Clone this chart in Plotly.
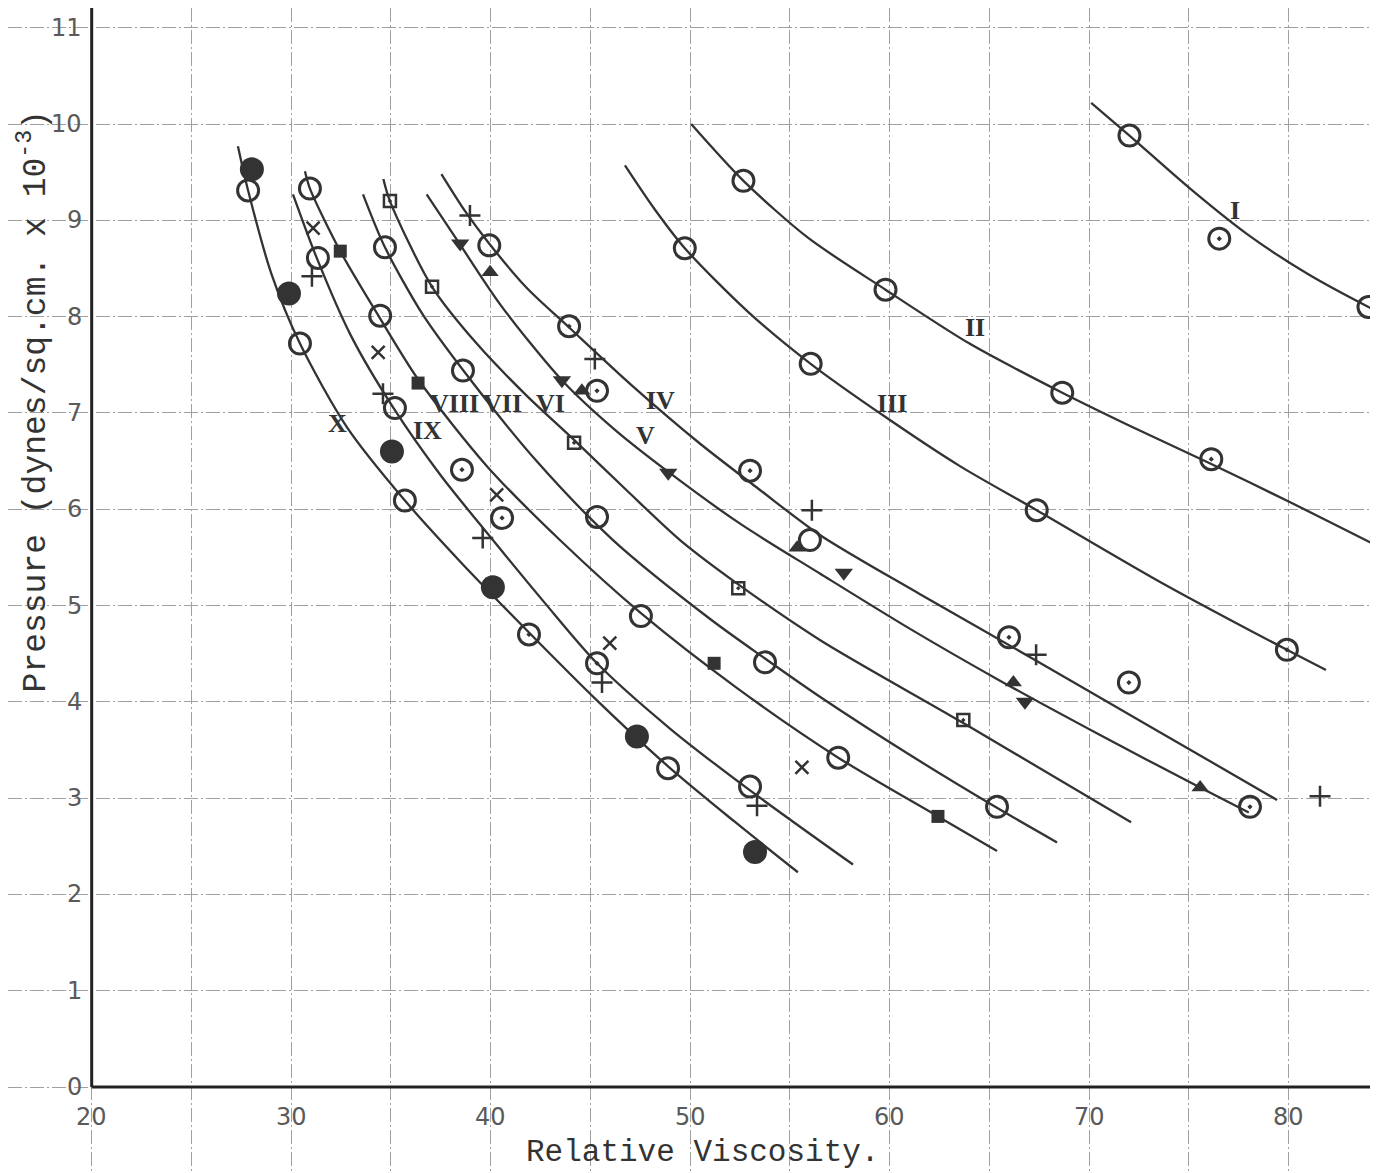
import plotly.graph_objects as go

# ---------------- data ----------------
x_ticks = [20, 30, 40, 50, 60, 70, 80]
y_ticks = [0, 1, 2, 3, 4, 5, 6, 7, 8, 9, 10, 11]

# smooth curves
c1_x = [27.33, 27.84, 29.0, 30.44, 32.8, 35.7, 38.5, 41.92, 45.3, 48.89, 52.2, 55.4]
c1_y = [9.77, 9.31, 8.45, 7.72, 6.85, 6.09, 5.45, 4.72, 4.02, 3.33, 2.76, 2.23]
c2_x = [30.09, 31.28, 33.0, 35.1, 37.5, 40.11, 42.7, 45.33, 49.0, 53.0, 58.16]
c2_y = [9.27, 8.61, 7.8, 7.06, 6.35, 5.68, 5.03, 4.40, 3.72, 3.08, 2.31]
c3_x = [30.69, 30.94, 32.46, 34.46, 36.36, 39.8, 43.47, 47.53, 52.3, 57.42, 62.42, 65.38]
c3_y = [9.51, 9.33, 8.68, 7.98, 7.35, 6.45, 5.68, 4.92, 4.15, 3.42, 2.81, 2.45]
c4_x = [33.6, 34.7, 36.6, 38.63, 42.3, 46.13, 51.0, 53.75, 56.52, 61.0, 65.29, 68.39]
c4_y = [9.27, 8.72, 8.02, 7.44, 6.5, 5.68, 4.86, 4.45, 4.05, 3.45, 2.91, 2.54]
c5_x = [34.62, 34.95, 37.06, 39.3, 41.8, 44.18, 46.8, 49.49, 52.41, 56.52, 63.69, 72.1]
c5_y = [9.43, 9.2, 8.31, 7.72, 7.18, 6.72, 6.2, 5.68, 5.22, 4.64, 3.78, 2.75]
c6_x = [36.79, 38.46, 40.5, 43.57, 46.2, 48.89, 52.5, 56.52, 61.0, 65.44, 70.5, 75.56, 78.0]
c6_y = [9.27, 8.75, 8.12, 7.34, 6.83, 6.39, 5.85, 5.33, 4.76, 4.23, 3.66, 3.11, 2.85]
c7_x = [37.53, 38.7, 39.92, 41.8, 43.92, 47.0, 50.5, 53.5, 56.52, 61.5, 67.24, 73.0, 79.42]
c7_y = [9.48, 9.1, 8.76, 8.3, 7.89, 7.3, 6.68, 6.2, 5.73, 5.12, 4.44, 3.75, 2.98]
c8_x = [46.73, 48.2, 49.73, 52.9, 56.04, 59.7, 63.5, 67.37, 73.6, 79.91, 81.87]
c8_y = [9.57, 9.12, 8.71, 8.05, 7.51, 6.97, 6.45, 5.99, 5.24, 4.54, 4.33]
c9_x = [50.05, 52.67, 55.9, 59.79, 64.0, 68.65, 72.4, 76.12, 80.1, 84.05, 84.6]
c9_y = [10.0, 9.41, 8.82, 8.28, 7.72, 7.21, 6.83, 6.47, 6.07, 5.66, 5.60]
c10_x = [70.1, 72.02, 75.0, 77.9, 80.9, 84.0, 84.6]
c10_y = [10.22, 9.88, 9.34, 8.86, 8.45, 8.10, 8.04]

# markers
filled_circle_x = [28.03, 29.89, 35.05, 40.11, 47.33, 53.25]
filled_circle_y = [9.53, 8.24, 6.60, 5.19, 3.64, 2.44]
ring_x = [27.84, 30.94, 30.44, 31.34, 34.7, 34.46, 35.2, 35.70, 39.93, 38.61, 45.33, 48.89,
          53.0, 47.53, 53.75, 57.42, 65.38, 56.0, 67.37, 52.67, 59.79, 68.65, 49.73, 56.04,
          72.02, 84.0]
ring_y = [9.31, 9.33, 7.72, 8.61, 8.72, 8.01, 7.05, 6.09, 8.74, 7.44, 5.92, 3.31,
          3.12, 4.89, 4.41, 3.42, 2.91, 5.68, 5.99, 9.41, 8.28, 7.21, 8.71, 7.51,
          9.88, 8.10]
ringdot_x = [45.33, 41.92, 38.56, 40.57, 43.93, 45.33, 53.0, 65.98, 71.99, 78.06, 76.12, 79.91, 76.52]
ringdot_y = [4.40, 4.70, 6.41, 5.91, 7.90, 7.23, 6.40, 4.67, 4.20, 2.91, 6.52, 4.54, 8.81]
plus_x = [31.04, 34.6, 38.96, 45.22, 39.6, 45.58, 53.35, 56.1, 67.34, 81.57]
plus_y = [8.42, 7.2, 9.05, 7.56, 5.7, 4.20, 2.92, 5.99, 4.49, 3.02]
cross_x = [31.1, 34.36, 40.3, 45.97, 55.6]
cross_y = [8.92, 7.63, 6.15, 4.61, 3.32]
fsquare_x = [32.46, 36.36, 51.2, 62.42]
fsquare_y = [8.68, 7.31, 4.40, 2.81]
osquare_x = [34.95, 37.06, 44.18, 52.41, 63.69]
osquare_y = [9.2, 8.31, 6.69, 5.18, 3.81]
tri_down_x = [38.47, 43.57, 48.9, 57.7, 66.78]
tri_down_y = [8.76, 7.34, 6.38, 5.34, 4.0]
tri_up_x = [39.97, 44.57, 55.36, 66.2, 75.56]
tri_up_y = [8.46, 7.23, 5.6, 4.2, 3.11]

label_text = ["I", "II", "III", "IV", "V", "VI", "VII", "VIII", "IX", "X"]
label_x = [77.3, 64.3, 60.1, 48.5, 47.75, 43.0, 40.6, 38.2, 36.85, 32.3]
label_y = [9.1, 7.89, 7.1, 7.13, 6.77, 7.1, 7.1, 7.1, 6.82, 6.89]

# ---------------- figure ----------------
INK = "#333333"
fig = go.Figure()

curves = [(c1_x, c1_y), (c2_x, c2_y), (c3_x, c3_y), (c4_x, c4_y), (c5_x, c5_y),
          (c6_x, c6_y), (c7_x, c7_y), (c8_x, c8_y), (c9_x, c9_y), (c10_x, c10_y)]
for cx, cy in curves:
    fig.add_trace(go.Scatter(x=cx, y=cy, mode="lines",
                             line=dict(color=INK, width=2.3, shape="spline", smoothing=0.8),
                             hoverinfo="skip", showlegend=False))

def add_markers(xs, ys, symbol, size, lw=2.5, color=INK):
    fig.add_trace(go.Scatter(x=xs, y=ys, mode="markers", showlegend=False,
                             marker=dict(symbol=symbol, size=size, color=color,
                                         line=dict(color=color, width=lw))))

add_markers(ring_x, ring_y, "circle-open", 21, 3)
add_markers(ringdot_x, ringdot_y, "circle-open-dot", 21, 3)
add_markers(filled_circle_x, filled_circle_y, "circle", 24, 0)
add_markers(plus_x, plus_y, "cross-thin-open", 15, 2.5)
add_markers(cross_x, cross_y, "x-thin-open", 13, 2.5)
add_markers(fsquare_x, fsquare_y, "square", 13, 0)
add_markers(osquare_x, osquare_y, "square-open-dot", 12, 2.5)
add_markers(tri_down_x, tri_down_y, "triangle-down", 16, 0)
add_markers(tri_up_x, tri_up_y, "triangle-up", 15, 0)

annotations = []
for t, lx, ly in zip(label_text, label_x, label_y):
    annotations.append(dict(x=lx, y=ly, text="<b>" + t + "</b>", showarrow=False,
                            xref="x", yref="y",
                            font=dict(family="Liberation Serif", size=26, color=INK)))
for v in x_ticks:
    annotations.append(dict(x=v, y=-0.31, text=str(v), showarrow=False, xref="x", yref="y",
                            font=dict(family="DejaVu Sans", size=24, color="#5a5a5a")))
for v in y_ticks:
    annotations.append(dict(x=19.62, y=v, text=str(v), showarrow=False, xref="x", yref="y",
                            xanchor="right",
                            font=dict(family="DejaVu Sans", size=24, color="#5a5a5a")))
annotations.append(dict(x=50.64, y=-0.685, text="Relative Viscosity.", showarrow=False,
                        xref="x", yref="y",
                        font=dict(family="Liberation Mono", size=31, color=INK)))
annotations.append(dict(x=17.06, y=7.12, text="Pressure (dynes/sq.cm. x 10<sup>-3</sup>)",
                        showarrow=False, xref="x", yref="y", textangle=-90,
                        font=dict(family="Liberation Mono", size=33, color=INK)))

# the page adds an 8px body margin, so the figure is 8px smaller and its ranges start 8px in
XMIN, XMAX = 15.805, 84.477
YMIN, YMAX = -0.893, 11.205
shapes = [
    dict(type="line", xref="x", yref="y", x0=20, x1=20, y0=0, y1=YMAX,
         line=dict(color="#222222", width=3)),
    dict(type="line", xref="x", yref="y", x0=20, x1=XMAX, y0=0, y1=0,
         line=dict(color="#222222", width=3)),
]

fig.update_layout(
    width=1370, height=1165,
    margin=dict(l=0, r=0, t=0, b=0),
    paper_bgcolor="white", plot_bgcolor="white",
    annotations=annotations, shapes=shapes,
    xaxis=dict(range=[XMIN, XMAX], tick0=0, dtick=5, showgrid=True,
               gridcolor="#a0a0a0", gridwidth=1, griddash="14px,3px,2px,3px",
               zeroline=False, showticklabels=False, ticks="", showline=False,
               fixedrange=True),
    yaxis=dict(range=[YMIN, YMAX], tick0=0, dtick=1, showgrid=True,
               gridcolor="#a0a0a0", gridwidth=1, griddash="14px,3px,2px,3px",
               zeroline=False, showticklabels=False, ticks="", showline=False,
               fixedrange=True),
)

fig.write_html("out.html")
